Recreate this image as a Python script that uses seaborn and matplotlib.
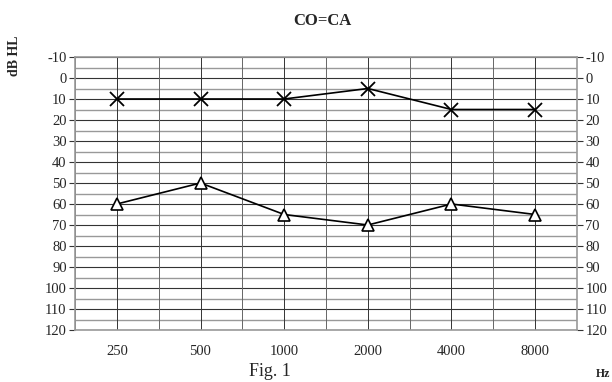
import numpy as np
import pandas as pd
import matplotlib
matplotlib.use("Agg")
import matplotlib.pyplot as plt
import seaborn as sns

# audiogram values (dB HL)
freqs = ["250", "500", "1000", "2000", "4000", "8000"]
ca_x = [10, 10, 10, 5, 15, 15]        # crosses
co_tri = [60, 50, 65, 70, 60, 65]     # triangles
y_ticks = list(range(-10, 121, 10))

sns.set_theme(style="white")
plt.rcParams["font.family"] = ["Liberation Serif", "DejaVu Serif"]

df = pd.DataFrame({"freq": freqs * 2,
                   "db": ca_x + co_tri,
                   "serie": ["x"] * len(freqs) + ["tri"] * len(freqs)})

fig = plt.figure(figsize=(6.12, 3.82), dpi=100)
ax = fig.add_axes([75 / 612, 1 - 330 / 382, (577 - 75) / 612, (330 - 57) / 382])

# grid: every 5 dB, every half octave
for v in np.arange(-10, 121, 5):
    ax.axhline(v, color="#333333" if v % 10 == 0 else "#999999",
               lw=0.8 if v % 10 == 0 else 1.0, zorder=0)
for v in np.arange(-0.5, 5.6, 0.5):
    ax.axvline(v, color="#333333" if v % 1 == 0 else "#666666", lw=0.7, zorder=0)

sns.lineplot(data=df[df.serie == "x"], x="freq", y="db", sort=False, ax=ax,
             color="black", lw=1.2, marker="x", markersize=10,
             markeredgewidth=1.3, markeredgecolor="black")
sns.lineplot(data=df[df.serie == "tri"], x="freq", y="db", sort=False, ax=ax,
             color="black", lw=1.2, marker="^", markersize=9,
             markerfacecolor="white", markeredgewidth=1.2, markeredgecolor="black")

ax.set_xlim(-0.5, 5.5)
ax.set_ylim(120, -10)
ax.set_yticks(y_ticks)
ax.set_yticklabels([str(t) for t in y_ticks])
ax.set_xticks(range(len(freqs)))
ax.set_xticklabels(freqs)
ax.set_xlabel("")
ax.set_ylabel("")
ax.tick_params(axis="y", which="both", left=True, right=True, labelleft=True,
               labelright=True, length=4, width=0.8, color="#333333",
               labelsize=10.5, pad=2)
ax.tick_params(axis="x", length=0, labelsize=10.5, pad=11)
for s in ax.spines.values():
    s.set_color("#999999")
    s.set_linewidth(1.2)

fig.text(322 / 612, 1 - 21 / 382, "CO=CA", ha="center", va="center",
         fontsize=12, fontweight="bold")
fig.text(15 / 612, 1 - 56 / 382, "dB HL", ha="center", va="center",
         rotation=90, fontsize=10, fontweight="bold")
fig.text(610 / 612, 1 - 374 / 382, "Hz", ha="right", va="center",
         fontsize=8.5, fontweight="bold")
fig.text(270 / 612, 1 - 380 / 382, "Fig. 1", ha="center", va="bottom",
         fontsize=13)

fig.savefig("out.png", dpi=100)
